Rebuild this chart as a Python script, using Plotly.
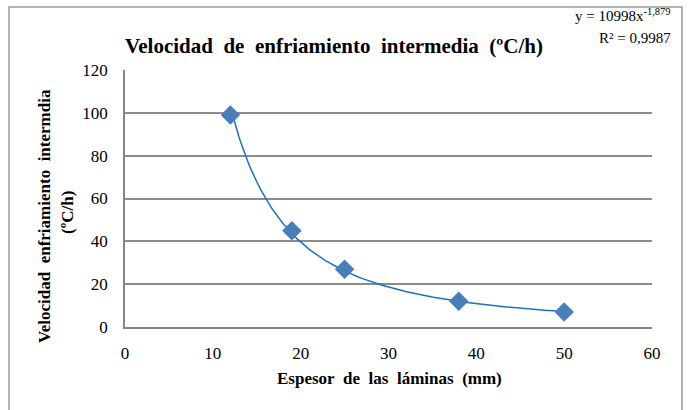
import numpy as np
import plotly.graph_objects as go

# Data
espesor = [12, 19, 25, 38, 50]
velocidad = [99, 45, 27, 12, 7]
x_ticks = [0, 10, 20, 30, 40, 50, 60]
y_ticks = [0, 20, 40, 60, 80, 100, 120]
title_text = "Velocidad de enfriamiento intermedia (ºC/h)"
x_title = "Espesor de las láminas (mm)"
y_title_1 = "Velocidad enfriamiento intermdia"
y_title_2 = "(ºC/h)"
eq_text = "y = 10998x<sup>-1,879</sup>"
r2_text = "R² = 0,9987"

W, H = 691, 410
L, R, T, B = 125, 39, 70, 83
PW, PH = W - L - R, H - T - B


def px(xp):
    return (xp - L) / PW


def py(yp):
    return (H - B - yp) / PH


def wide(s):
    return s.replace(" ", "\u00a0\u00a0")


# Power trendline fitted from data (least squares on logs, as Excel does)
b, lna = np.polyfit(np.log(espesor), np.log(velocidad), 1)
xt = np.linspace(min(espesor), max(espesor), 200)
yt = np.exp(lna) * xt ** b

serif = "'Liberation Serif', 'DejaVu Serif', serif"

fig = go.Figure()
fig.add_trace(go.Scatter(x=xt, y=yt, mode="lines",
                         line=dict(color="#1a72c4", width=1.5),
                         hoverinfo="skip", showlegend=False))
fig.add_trace(go.Scatter(x=espesor, y=velocidad, mode="markers",
                         marker=dict(symbol="diamond", size=15, color="#4a7ebb",
                                     line=dict(width=0)),
                         showlegend=False))

fig.update_layout(
    width=W, height=H,
    margin=dict(l=L, r=R, t=T, b=B),
    paper_bgcolor="white", plot_bgcolor="white",
    font=dict(family=serif, color="black", size=16),
    xaxis=dict(range=[0, 60], tickvals=x_ticks, showgrid=False,
               showline=True, linecolor="#868686", linewidth=1.5,
               ticks="", zeroline=False, ticklabelstandoff=10,
               tickfont=dict(size=17, family=serif)),
    yaxis=dict(range=[0, 120], tickvals=y_ticks, showgrid=True,
               gridcolor="#8c8c8c", gridwidth=1.5,
               showline=True, linecolor="#868686", linewidth=1.5,
               ticks="", zeroline=False, ticklabelstandoff=12,
               tickfont=dict(size=17, family=serif)),
)

annotations = [
    dict(text="<b>" + wide(title_text) + "</b>", x=px(334), y=py(46),
         xanchor="center", yanchor="middle", font=dict(size=21, family=serif)),
    dict(text="<b>" + wide(x_title) + "</b>", x=px(389), y=py(378),
         xanchor="center", yanchor="middle", font=dict(size=17, family=serif)),
    dict(text="<b>" + wide(y_title_1) + "</b>", x=px(44), y=py(216), textangle=-90,
         xanchor="center", yanchor="middle", font=dict(size=17, family=serif)),
    dict(text="<b>" + y_title_2 + "</b>", x=px(67), y=py(213), textangle=-90,
         xanchor="center", yanchor="middle", font=dict(size=17, family=serif)),
    dict(text=eq_text, x=px(673), y=py(15), xanchor="right", yanchor="middle",
         font=dict(size=15, family=serif)),
    dict(text=r2_text, x=px(673), y=py(38), xanchor="right", yanchor="middle",
         font=dict(size=15, family=serif)),
]
for a in annotations:
    a.update(xref="paper", yref="paper", showarrow=False)
fig.update_layout(annotations=annotations)

fig.add_shape(type="rect", xref="paper", yref="paper",
              x0=px(9), x1=px(682), y0=py(414), y1=py(7),
              line=dict(color="#9a9a9a", width=1.5), layer="below")

fig.write_html("out.html")
